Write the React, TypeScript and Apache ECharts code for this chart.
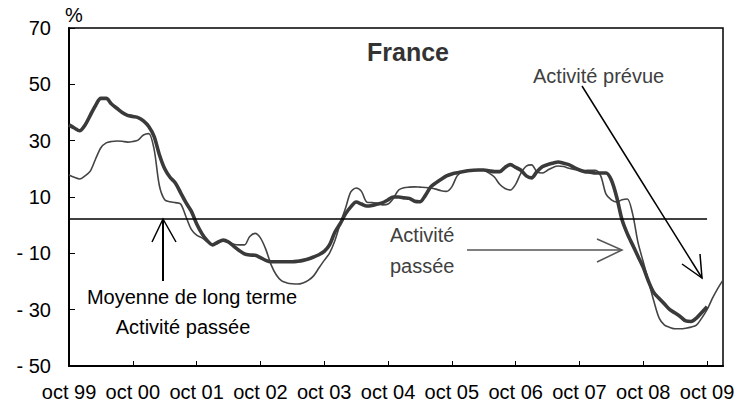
import React, { useEffect, useRef } from "react";
import * as echarts from "echarts";

// Monthly observations, oct 1999 .. jan 2010 (124 months)
const START_YEAR = 1999;
const START_MONTH = 9; // october (0-based)
const N_MONTHS = 124;

const yTicks = [-50, -30, -10, 10, 30, 50, 70];
const LONG_TERM_MEAN = 2.3;

// thick line (activité passée)
const pastActivity: (number | null)[] = [
  35.6, 34.5, 33.5, 35.5, 39, 42.5, 45, 45, 43, 41.5, 40, 39,
  38.6, 38.2, 37, 35, 31.5, 25, 20, 17, 15, 11.5, 8, 5,
  0.5, -3, -5.5, -7, -6, -5.3, -6, -7.5, -9, -10.2, -10.6, -10.7,
  -11.5, -12.5, -13, -13, -13, -13, -13, -12.8, -12.5, -12, -11.3, -10.5,
  -9.3, -7, -2.5, 0.5, 4, 6.5, 8.2, 7.5, 6.8, 7, 7.5, 8,
  9, 10, 10, 9.7, 9.5, 8.5, 8.3, 10.5, 13.5, 15, 16.3, 17.5,
  18.2, 18.6, 19, 19.3, 19.5, 19.6, 19.6, 19.3, 19, 19, 20.5, 21.5,
  20.5, 19.5, 17.5, 16.8, 19, 20.7, 21.5, 22, 22.4, 22, 21.5, 20.5,
  19.6, 19, 18.8, 18.5, 18.5, 18.5, 16, 10, 2, -3, -7, -11,
  -15, -20, -24, -26, -28, -30, -31.2, -32.5, -34, -34.2, -33, -31,
  -29, null, null, null,
];

// thin line (activité prévue)
const expectedActivity: number[] = [
  17.8, 17, 16.4, 17.5, 19.2, 23.5, 27.5, 29.2, 29.7, 29.9, 29.8, 29.5,
  29.7, 30.2, 32, 32.5, 27, 14, 9, 8.3, 8, 7.5, 3, -1.5,
  -3.5, -4.5, -5.8, -7, -6.5, -5.5, -5.8, -6.8, -7, -7, -4, -2.9,
  -4.5, -8.5, -14, -17.7, -19.8, -20.5, -20.8, -20.9, -20.5, -19.6, -18, -15.2,
  -12.5, -9.9, -5.5, 0.5, 6, 11.8, 13.2, 12, 8.2, 8, 7.8, 7.2,
  7.5, 9.5, 12.5, 13.3, 13.5, 13.6, 13.5, 13.4, 13.2, 12.8, 12.2, 12,
  13.6, 17.5, 19, 19.5, 19.6, 19.6, 19.5, 18.5, 17.1, 14.5, 13, 12.5,
  14.5, 18.5, 21, 21.4, 19, 18.5, 19.5, 20.5, 21, 20.8, 20.2, 19.8,
  19.5, 19.4, 19.5, 19.5, 17.5, 11, 9, 8.2, 9, 9.3, 4, -6,
  -13, -20, -27, -33, -35.5, -36.3, -36.8, -36.8, -36.6, -36.2, -35.5, -33,
  -30, -26, -22.5, -19.5,
];

const MONTH_NAMES = ["jan", "fév", "mar", "avr", "mai", "jun", "jul", "aoû", "sep", "oct", "nov", "déc"];
const categories: string[] = Array.from({ length: N_MONTHS }, (_, i) => {
  const m = (START_MONTH + i) % 12;
  const y = START_YEAR + Math.floor((START_MONTH + i) / 12);
  return `${MONTH_NAMES[m]} ${String(y % 100).padStart(2, "0")}`;
});

const FONT = "Liberation Sans, Arial, Helvetica, sans-serif";

export default function App() {
  const ref = useRef<HTMLDivElement>(null);
  useEffect(() => {
    if (!ref.current) return;
    const chart = echarts.init(ref.current, null, { renderer: "svg" });
    chart.setOption({
      animation: false,
      backgroundColor: "#fff",
      textStyle: { fontFamily: FONT },
      grid: {
        left: 69,
        top: 28,
        right: 29,
        bottom: 41,
        show: true,
        borderColor: "#000",
        borderWidth: 1.5,
        backgroundColor: "transparent",
      },
      xAxis: {
        type: "category",
        data: categories,
        boundaryGap: false,
        axisLine: { show: true, onZero: false, lineStyle: { color: "#000", width: 2 } },
        axisTick: { show: true, inside: true, length: 5, interval: 11, lineStyle: { color: "#000", width: 1 } },
        axisLabel: {
          interval: 11,
          color: "#000",
          fontSize: 20,
          fontFamily: FONT,
          margin: 16,
        },
        splitLine: { show: false },
      },
      yAxis: {
        type: "value",
        min: yTicks[0],
        max: yTicks[yTicks.length - 1],
        interval: 20,
        axisLine: { show: true, onZero: false, lineStyle: { color: "#000", width: 2 } },
        axisTick: { show: true, inside: true, length: 6, lineStyle: { color: "#000", width: 1 } },
        axisLabel: {
          color: "#000",
          fontSize: 20,
          fontFamily: FONT,
          margin: 18,
          formatter: (v: number) => (v < 0 ? `- ${Math.abs(v)}` : `${v}`),
        },
        splitLine: { show: false },
      },
      series: [
        {
          type: "line",
          data: expectedActivity,
          showSymbol: false,
          smooth: 0.3,
          lineStyle: { color: "#444", width: 1.6 },
          z: 2,
        },
        {
          type: "line",
          data: pastActivity,
          showSymbol: false,
          smooth: 0.3,
          lineStyle: { color: "#3a3a3a", width: 3.6 },
          z: 3,
          markLine: {
            silent: true,
            symbol: "none",
            label: { show: false },
            lineStyle: { color: "#000", width: 1.5, type: "solid" },
            data: [[{ coord: [categories[0], LONG_TERM_MEAN] }, { coord: [categories[120], LONG_TERM_MEAN] }]],
          },
        },
      ],
      graphic: [
        { type: "text", left: 65, top: 5, style: { text: "%", fill: "#000", font: `20px ${FONT}` } },
        {
          type: "text",
          x: 408,
          y: 52,
          style: { text: "France", fill: "#333", font: `bold 25px ${FONT}`, align: "center", verticalAlign: "middle" },
        },
        {
          type: "text",
          x: 533,
          y: 76,
          style: { text: "Activité prévue", fill: "#404040", font: `20px ${FONT}`, align: "left", verticalAlign: "middle" },
        },
        { type: "line", shape: { x1: 582, y1: 86, x2: 702, y2: 278 }, style: { stroke: "#000", lineWidth: 1.5 } },
        {
          type: "polyline",
          shape: { points: [[682, 264], [702, 278], [700, 254]] },
          style: { stroke: "#000", lineWidth: 1.5, fill: null },
        },
        {
          type: "text",
          x: 390,
          y: 235,
          style: { text: "Activité", fill: "#404040", font: `20px ${FONT}`, align: "left", verticalAlign: "middle" },
        },
        {
          type: "text",
          x: 390,
          y: 266,
          style: { text: "passée", fill: "#404040", font: `20px ${FONT}`, align: "left", verticalAlign: "middle" },
        },
        { type: "line", shape: { x1: 467, y1: 250, x2: 622, y2: 250 }, style: { stroke: "#555", lineWidth: 1.5 } },
        {
          type: "polyline",
          shape: { points: [[597, 239], [622, 250], [597, 262]] },
          style: { stroke: "#555", lineWidth: 1.5, fill: null },
        },
        { type: "line", shape: { x1: 163, y1: 219, x2: 163, y2: 281 }, style: { stroke: "#000", lineWidth: 2 } },
        {
          type: "polyline",
          shape: { points: [[152, 242], [163, 219], [176, 242]] },
          style: { stroke: "#000", lineWidth: 1.5, fill: null },
        },
        {
          type: "text",
          x: 192,
          y: 297,
          style: { text: "Moyenne de long terme", fill: "#000", font: `20px ${FONT}`, align: "center", verticalAlign: "middle" },
        },
        {
          type: "text",
          x: 183,
          y: 327,
          style: { text: "Activité passée", fill: "#000", font: `20px ${FONT}`, align: "center", verticalAlign: "middle" },
        },
      ],
    });
    return () => chart.dispose();
  }, []);
  return <div ref={ref} style={{ width: 752, height: 407, margin: -8 }} />;
}
